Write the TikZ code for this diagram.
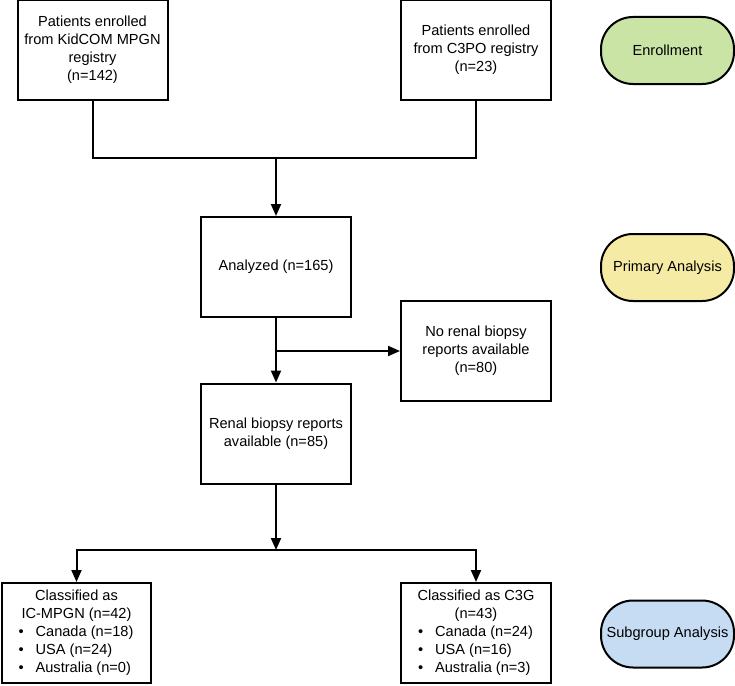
\documentclass[tikz,border=0pt]{standalone}
\usepackage{fontspec}
\setmainfont{Liberation Sans}
\usetikzlibrary{arrows.meta}
\definecolor{pgreen}{RGB}{201,228,165}
\definecolor{pyellow}{RGB}{246,235,164}
\definecolor{pblue}{RGB}{197,220,242}
\newcommand{\bitem}[1]{\makebox[140pt][l]{\hspace{12pt}\textbullet\hspace{12pt}#1}}
\begin{document}
\begin{tikzpicture}[x=1pt,y=-1pt,
  every node/.style={font=\fontsize{14.6}{18}\selectfont},
  box/.style={draw=black,line width=2pt,minimum width=150pt,minimum height=100pt,inner sep=1pt,align=center},
  pill/.style={draw=black,line width=2pt,rounded corners=32pt,minimum width=133pt,minimum height=67pt,align=center},
  conn/.style={line width=2pt},
  arr/.style={line width=2pt,-{Triangle[length=12pt,width=10pt]}}]
\useasboundingbox (0,0) rectangle (735,685);
\node[box] (k) at (92.5,50) {Patients enrolled\\from KidCOM MPGN\\registry\\(n=142)};
\node[box] (c) at (476,50) {Patients enrolled\\from C3PO registry\\(n=23)};
\node[pill,fill=pgreen] (en) at (667.5,50.5) {Enrollment};
\node[box] (an) at (276,267) {Analyzed (n=165)};
\node[box] (nr) at (476,351) {No renal biopsy\\reports available\\(n=80)};
\node[pill,fill=pyellow] (pa) at (667.5,267.5) {Primary Analysis};
\node[box] (rb) at (276,433.5) {Renal biopsy reports\\available (n=85)};
\node[box,minimum width=149pt] (ic) at (76.5,633) {Classified as\\IC-MPGN (n=42)\\\bitem{Canada (n=18)}\\\bitem{USA (n=24)}\\\bitem{Australia (n=0)}};
\node[box] (cg) at (476,633) {Classified as C3G\\(n=43)\\\bitem{Canada (n=24)}\\\bitem{USA (n=16)}\\\bitem{Australia (n=3)}};
\node[pill,fill=pblue] (sg) at (667.5,634) {Subgroup Analysis};
\coordinate (m) at (276,158);
\coordinate (b) at (276,351);
\coordinate (s) at (276,550);
\draw[conn] (k.south) |- (m) -| (c.south);
\draw[arr] (m) -- (an.north);
\draw[arr] (an.south) -- (rb.north);
\draw[arr] (b) -- (nr.west);
\draw[arr] (rb.south) -- (s);
\draw[arr] (s) -| (ic.north);
\draw[arr] (s) -| (cg.north);
\end{tikzpicture}
\end{document}
